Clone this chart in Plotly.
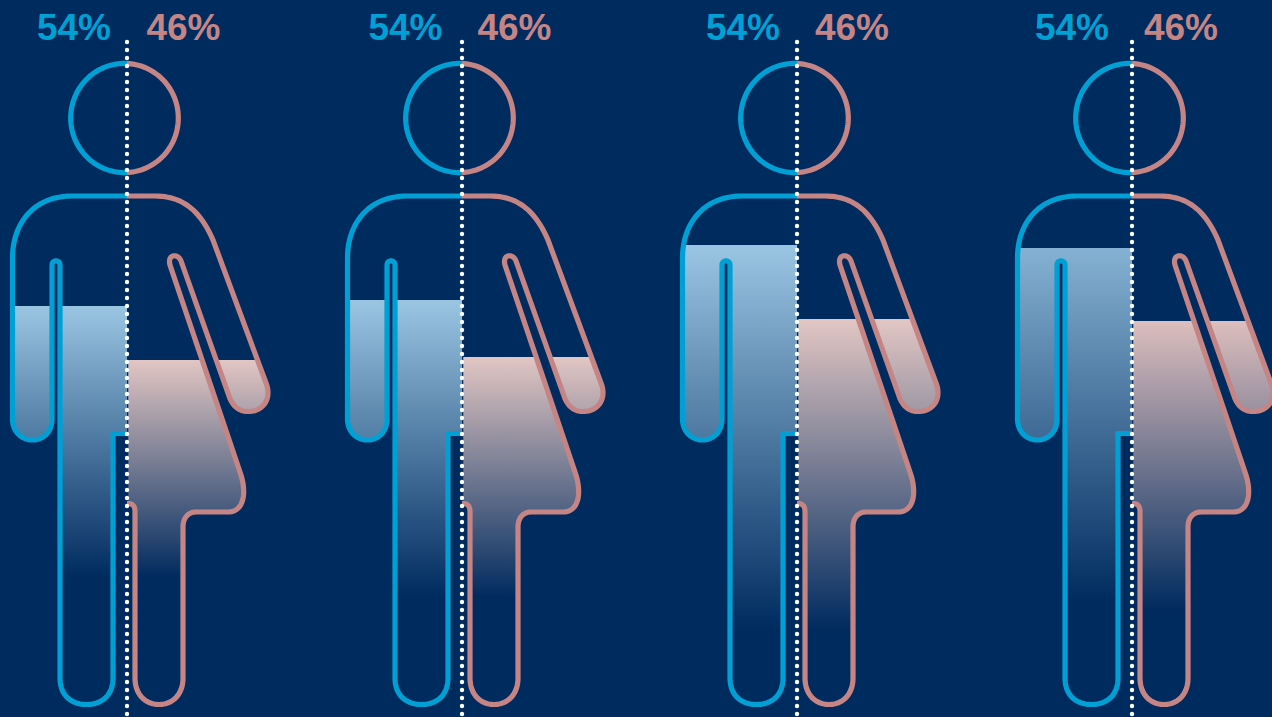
import math
import plotly.graph_objects as go

# ---- data ----
figure_labels = ["Figure 1", "Figure 2", "Figure 3", "Figure 4"]
left_percent = [54, 54, 54, 54]
right_percent = [46, 46, 46, 46]
left_label_x = [74, 405.5, 743, 1072]
right_label_x = [183.5, 514.5, 852, 1181]
left_fill_level = [306, 300, 245, 248]
right_fill_level = [360, 357, 319, 321]
fade_end_left = [577, 597, 630, 602]
fade_end_right = [577, 597, 630, 610]
left_top_colour = ["#9AC5E2", "#9AC5E2", "#9AC5E2", "#85B1D2"]
right_top_colour = ["#E2C6C3", "#E2C6C3", "#E2C6C3", "#DDBEBD"]
figure_offset = [0, 335, 670, 1005]

BG = "#002B5F"
BLUE = "#00A0D5"
PINK = "#C58585"
CENTRE_X = 127
WIDTH, HEIGHT = 1272, 717

# figure outlines: start point, then straight (2 numbers) or cubic (6 numbers) segments
left_outline = [
    (127, 196), (72, 196), (35, 196, 12.5, 222, 12.5, 258), (12.5, 419),
    (12.5, 432, 22, 440, 32.5, 440), (43, 440, 52, 432, 52, 419), (52, 265),
    (52, 259.5, 60, 259.5, 60, 265), (60, 678), (60, 696, 72, 704.5, 86.5, 704.5),
    (101, 704.5, 113, 696, 113, 678), (113, 433.5), (127, 433.5),
]
right_outline = [
    (127, 196), (155, 196), (182, 196, 200, 210, 213, 240), (266, 383),
    (272, 398, 264, 411.5, 248, 411.5), (238, 411.5, 232, 405, 229, 396), (181, 261),
    (178, 253, 167, 254, 170, 265), (241, 475), (247, 495, 243, 512, 228, 512),
    (196, 512), (188, 512, 183, 518, 183, 527), (183, 678),
    (183, 695, 172, 704.5, 159, 704.5), (146, 704.5, 135, 695, 135, 678), (135, 512),
    (135, 505, 132, 503.5, 127, 503.5),
]
head_centre = (124.5, 118)
head_radius = (53.8, 54.6)


def sample(outline):
    pts = [outline[0]]
    for seg in outline[1:]:
        if len(seg) == 2:
            pts.append(seg)
        else:
            p0 = pts[-1]
            for i in range(1, 25):
                t = i / 24
                u = 1 - t
                pts.append((
                    u**3*p0[0] + 3*u*u*t*seg[0] + 3*u*t*t*seg[2] + t**3*seg[4],
                    u**3*p0[1] + 3*u*u*t*seg[1] + 3*u*t*t*seg[3] + t**3*seg[5],
                ))
    return pts


def clip_below(pts, level):
    out = []
    n = len(pts)
    for i in range(n):
        a, b = pts[i], pts[(i + 1) % n]
        ain, bin_ = a[1] >= level, b[1] >= level
        if ain:
            out.append(a)
        if ain != bin_:
            t = (level - a[1]) / (b[1] - a[1])
            out.append((a[0] + t * (b[0] - a[0]), level))
    return out


def head_points():
    cx, cy = head_centre
    rx, ry = head_radius
    s = math.asin((CENTRE_X - cx) / rx)
    # angles measured clockwise from straight up, starting at the split on top
    left_span, right_span = math.pi + 2 * s, math.pi - 2 * s
    left, right = [], []
    for i in range(81):
        a = s - left_span * i / 80
        left.append((cx + rx * math.sin(a), cy - ry * math.cos(a)))
        a = s + right_span * i / 80
        right.append((cx + rx * math.sin(a), cy - ry * math.cos(a)))
    return left, right


fig = go.Figure()
left_pts = sample(left_outline)
right_pts = sample(right_outline)
head_left, head_right = head_points()


def add_fill(pts, level, end, top, dx, min_x=None):
    poly = clip_below(pts, level)
    poly = poly + [poly[0]]
    xs = [p[0] for p in poly]
    if min_x is not None:
        xs = [max(x, min_x) for x in xs]
    fig.add_trace(go.Scatter(
        x=[x + dx for x in xs], y=[p[1] for p in poly],
        mode="lines", line=dict(width=0, color="rgba(0,0,0,0)"),
        fill="toself",
        fillgradient=dict(type="vertical", start=level, stop=end,
                          colorscale=[[0, top], [1, BG]]),
        hoverinfo="skip", showlegend=False))


def add_line(pts, colour, dx):
    fig.add_trace(go.Scatter(
        x=[p[0] + dx for p in pts], y=[p[1] for p in pts],
        mode="lines", line=dict(color=colour, width=5.2, simplify=False),
        hoverinfo="skip", showlegend=False))


for i, dx in enumerate(figure_offset):
    add_fill(left_pts, left_fill_level[i], fade_end_left[i], left_top_colour[i], dx)
    add_fill(right_pts, right_fill_level[i], fade_end_right[i], right_top_colour[i], dx, min_x=128.3)
    add_line(left_pts, BLUE, dx)
    add_line(right_pts, PINK, dx)
    add_line(head_left, BLUE, dx)
    add_line(head_right, PINK, dx)
    fig.add_trace(go.Scatter(
        x=[CENTRE_X + dx] * 85, y=[42 + 8 * k for k in range(85)],
        mode="markers", marker=dict(color="white", size=4.4, line=dict(width=0)),
        hoverinfo="skip", showlegend=False))
    fig.add_trace(go.Scatter(
        x=[left_label_x[i], right_label_x[i]],
        y=[30.5, 30.5],
        mode="text",
        text=[f"{left_percent[i]}%", f"{right_percent[i]}%"],
        textposition="middle center",
        textfont=dict(family="Liberation Sans", size=37, weight="bold", color=[BLUE, PINK]),
        hoverinfo="skip", showlegend=False))

fig.update_layout(
    width=WIDTH, height=HEIGHT,
    margin=dict(l=0, r=0, t=0, b=0),
    paper_bgcolor=BG, plot_bgcolor=BG,
    showlegend=False,
    xaxis=dict(range=[0, WIDTH], visible=False, fixedrange=True),
    yaxis=dict(range=[HEIGHT, 0], visible=False, fixedrange=True),
)
fig.write_html("out.html", config={"displayModeBar": False},
               post_script="document.body.style.margin='0';document.body.style.overflow='hidden';")
